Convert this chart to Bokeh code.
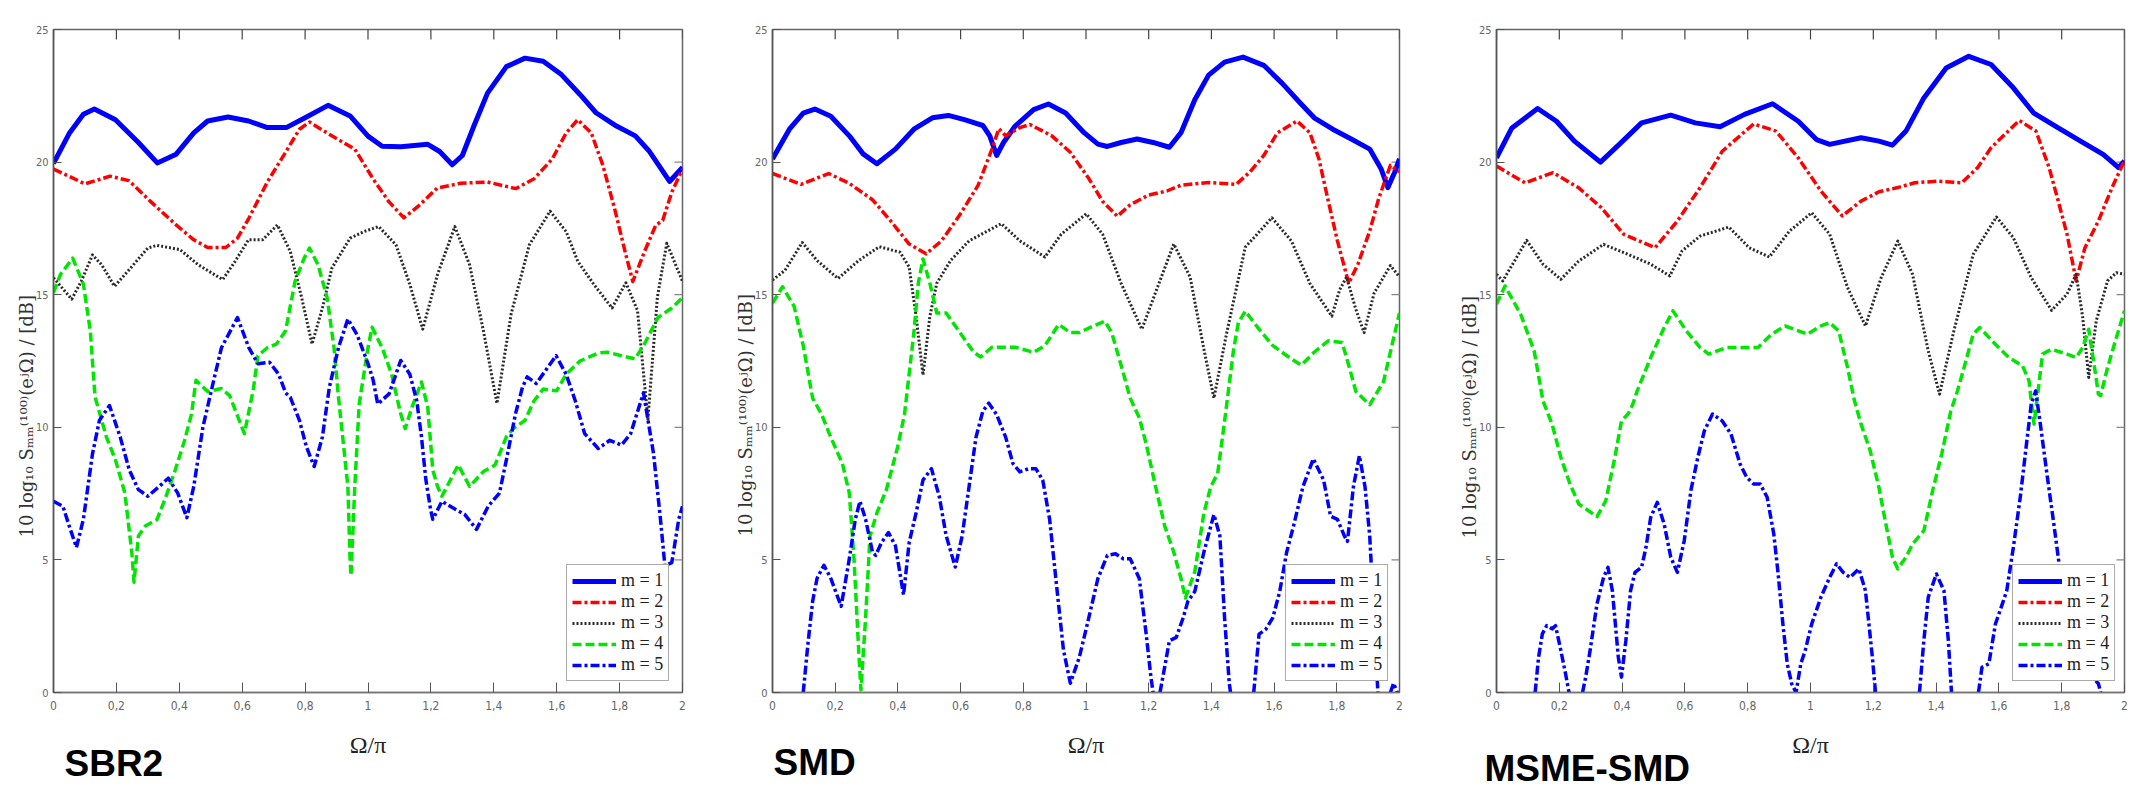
import math
from bokeh.plotting import figure
from bokeh.models import (Range1d, FixedTicker, Legend, LegendItem, Title)
from bokeh.layouts import row
from bokeh.embed import file_html
from bokeh.resources import INLINE

NaN = float("nan")

# ---------------- data ----------------
x_ticks = [0, 0.2, 0.4, 0.6, 0.8, 1, 1.2, 1.4, 1.6, 1.8, 2]
x_tick_labels = ["0", "0,2", "0,4", "0,6", "0,8", "1", "1,2", "1,4", "1,6", "1,8", "2"]
y_ticks = [0, 5, 10, 15, 20, 25]
series_labels = ["m = 1", "m = 2", "m = 3", "m = 4", "m = 5"]
panel_titles = ["SBR2", "SMD", "MSME-SMD"]
x_axis_label = "Ω/π"
y_axis_label = "10 log₁₀ Sₘₘ⁽¹⁰⁰⁾(eʲΩ) / [dB]"

# SBR2 panel (x = Ω/π, y = dB)
sbr2_m1 = [(0, 19.95), (0.051, 21.1), (0.095, 21.8), (0.13, 22.0), (0.197, 21.6), (0.27, 20.74), (0.33, 19.97),
           (0.39, 20.3), (0.446, 21.1), (0.49, 21.55), (0.555, 21.7), (0.62, 21.55), (0.68, 21.3), (0.74, 21.3),
           (0.80, 21.67), (0.873, 22.14), (0.943, 21.74), (1.0, 20.98), (1.045, 20.6), (1.104, 20.58), (1.19, 20.67),
           (1.228, 20.4), (1.268, 19.9), (1.30, 20.25), (1.338, 21.4), (1.38, 22.6), (1.44, 23.6), (1.499, 23.92),
           (1.557, 23.8), (1.615, 23.3), (1.674, 22.55), (1.725, 21.86), (1.79, 21.36), (1.85, 20.99), (1.893, 20.43),
           (1.959, 19.27), (2.0, 19.8)]
sbr2_m2 = [(0, 19.74), (0.10, 19.18), (0.18, 19.47), (0.24, 19.3), (0.31, 18.5), (0.39, 17.63), (0.446, 17.07),
           (0.49, 16.78), (0.548, 16.78), (0.585, 17.13), (0.621, 17.88), (0.68, 19.25), (0.738, 20.37), (0.782, 21.24),
           (0.814, 21.51), (0.885, 20.99), (0.958, 20.49), (1.016, 19.37), (1.067, 18.5), (1.114, 17.9), (1.162, 18.36),
           (1.22, 19.02), (1.294, 19.2), (1.38, 19.25), (1.47, 19.0), (1.528, 19.37), (1.586, 20.12), (1.63, 21.1),
           (1.667, 21.6), (1.71, 21.1), (1.747, 19.87), (1.784, 18.25), (1.82, 16.5), (1.842, 15.5), (1.879, 16.62),
           (1.915, 17.62), (1.937, 17.8), (1.966, 18.87), (2.0, 19.74)]
sbr2_m3 = [(0, 15.64), (0.058, 14.83), (0.088, 15.5), (0.124, 16.5), (0.153, 16.13), (0.194, 15.32), (0.241, 15.95),
           (0.30, 16.76), (0.329, 16.86), (0.402, 16.7), (0.46, 16.13), (0.538, 15.57), (0.577, 16.25), (0.62, 17.07),
           (0.665, 17.07), (0.712, 17.63), (0.753, 16.63), (0.789, 14.89), (0.822, 13.14), (0.855, 14.5), (0.885, 16.0),
           (0.943, 17.13), (0.987, 17.38), (1.034, 17.57), (1.089, 16.88), (1.133, 15.39), (1.174, 13.7), (1.221, 15.76),
           (1.276, 17.57), (1.323, 16.13), (1.367, 13.64), (1.41, 10.9), (1.455, 14.27), (1.513, 16.88), (1.579, 18.15),
           (1.63, 17.38), (1.667, 16.26), (1.718, 15.39), (1.776, 14.5), (1.82, 15.45), (1.857, 14.4), (1.89, 10.3),
           (1.92, 14.9), (1.95, 16.94), (2.0, 15.5)]
sbr2_m4 = [(0, 15.08), (0.022, 15.76), (0.061, 16.38), (0.095, 15.4), (0.117, 13.64), (0.132, 11.15), (0.168, 9.64),
           (0.197, 8.77), (0.227, 7.52), (0.249, 5.28), (0.256, 4.16), (0.27, 5.9), (0.292, 6.28), (0.329, 6.52),
           (0.358, 7.4), (0.387, 8.39), (0.417, 9.51), (0.439, 10.51), (0.453, 11.77), (0.49, 11.35), (0.534, 11.46),
           (0.56, 11.2), (0.607, 9.76), (0.635, 11.4), (0.65, 12.7), (0.68, 13.0), (0.709, 13.14), (0.738, 13.64),
           (0.768, 15.5), (0.797, 16.38), (0.814, 16.76), (0.841, 16.13), (0.87, 14.89), (0.892, 13.0), (0.906, 11.15),
           (0.936, 7.77), (0.943, 5.03), (0.946, 4.4), (0.958, 7.77), (0.972, 10.88), (1.0, 13.0), (1.013, 13.77),
           (1.045, 13.0), (1.075, 12.0), (1.104, 10.51), (1.118, 9.95), (1.14, 10.76), (1.17, 11.71), (1.19, 10.76),
           (1.206, 8.39), (1.221, 7.77), (1.235, 7.4), (1.257, 7.9), (1.287, 8.58), (1.323, 7.77), (1.367, 8.33),
           (1.404, 8.58), (1.44, 9.64), (1.462, 9.95), (1.499, 10.26), (1.528, 11.0), (1.557, 11.44), (1.6, 11.38),
           (1.63, 12.0), (1.674, 12.5), (1.732, 12.8), (1.762, 12.83), (1.806, 12.7), (1.849, 12.58), (1.879, 13.14),
           (1.922, 14.14), (1.966, 14.5), (2.0, 14.89)]
sbr2_m5 = [(0, 7.21), (0.03, 7.02), (0.05, 6.28), (0.073, 5.47), (0.095, 6.53), (0.124, 9.0), (0.146, 10.26),
           (0.178, 10.82), (0.212, 9.64), (0.241, 8.39), (0.27, 7.65), (0.30, 7.4), (0.336, 7.77), (0.365, 8.08),
           (0.395, 7.52), (0.424, 6.59), (0.446, 7.77), (0.475, 10.0), (0.504, 11.5), (0.534, 13.0), (0.585, 14.14),
           (0.621, 13.0), (0.65, 12.4), (0.687, 12.45), (0.716, 12.0), (0.738, 11.3), (0.753, 11.13), (0.782, 10.26),
           (0.804, 9.27), (0.829, 8.52), (0.855, 9.64), (0.877, 11.5), (0.906, 13.0), (0.936, 14.08), (0.965, 13.5),
           (1.0, 12.4), (1.016, 11.8), (1.031, 10.88), (1.067, 11.26), (1.104, 12.52), (1.133, 12.0), (1.155, 11.0),
           (1.17, 9.64), (1.184, 8.02), (1.199, 6.9), (1.206, 6.53), (1.235, 7.21), (1.279, 6.9), (1.308, 6.71),
           (1.345, 6.15), (1.382, 7.02), (1.418, 7.52), (1.44, 8.77), (1.469, 10.51), (1.491, 11.5), (1.506, 11.9),
           (1.535, 11.65), (1.598, 12.7), (1.63, 12.0), (1.659, 11.0), (1.689, 9.76), (1.732, 9.2), (1.769, 9.51),
           (1.806, 9.33), (1.835, 9.76), (1.876, 11.3), (1.908, 9.0), (1.93, 6.53), (1.944, 4.78), (1.966, 4.9),
           (1.988, 6.53), (2.0, 7.02)]

# SMD panel
smd_m1 = [(0, 20.12), (0.054, 21.24), (0.098, 21.85), (0.135, 22.0), (0.186, 21.73), (0.245, 20.99), (0.289, 20.31),
          (0.333, 19.94), (0.392, 20.49), (0.451, 21.24), (0.51, 21.67), (0.561, 21.76), (0.612, 21.6), (0.671, 21.38),
          (0.693, 20.99), (0.715, 20.25), (0.737, 20.74), (0.774, 21.36), (0.833, 21.98), (0.88, 22.19), (0.935, 21.85),
          (0.994, 21.11), (1.038, 20.68), (1.068, 20.59), (1.112, 20.74), (1.163, 20.87), (1.214, 20.74), (1.266, 20.56),
          (1.303, 21.11), (1.347, 22.35), (1.391, 23.28), (1.442, 23.77), (1.501, 23.96), (1.567, 23.65), (1.626, 22.97),
          (1.684, 22.22), (1.728, 21.67), (1.787, 21.24), (1.846, 20.87), (1.905, 20.49), (1.941, 19.75), (1.963, 19.04),
          (1.985, 19.63), (2.0, 20.12)]
smd_m2 = [(0, 19.57), (0.091, 19.16), (0.179, 19.57), (0.245, 19.2), (0.319, 18.58), (0.377, 17.78), (0.436, 16.91),
          (0.49, 16.54), (0.539, 17.03), (0.598, 18.02), (0.656, 19.13), (0.7, 20.49), (0.722, 21.26), (0.744, 20.99),
          (0.789, 21.3), (0.821, 21.42), (0.891, 20.99), (0.95, 20.37), (1.009, 19.38), (1.053, 18.52), (1.1, 17.96),
          (1.141, 18.39), (1.2, 18.76), (1.258, 18.91), (1.303, 19.13), (1.391, 19.23), (1.479, 19.16), (1.523, 19.63),
          (1.567, 20.25), (1.611, 21.11), (1.673, 21.55), (1.714, 21.11), (1.743, 20.12), (1.773, 18.52), (1.802, 17.03),
          (1.838, 15.43), (1.868, 16.17), (1.905, 17.4), (1.934, 18.64), (1.971, 19.88), (2.0, 19.63)]
smd_m3 = [(0, 15.55), (0.04, 15.92), (0.095, 16.97), (0.142, 16.29), (0.209, 15.61), (0.275, 16.29), (0.341, 16.81),
          (0.407, 16.6), (0.436, 16.04), (0.458, 14.19), (0.48, 11.97), (0.502, 14.19), (0.524, 15.43), (0.568, 16.29),
          (0.627, 17.03), (0.73, 17.68), (0.789, 17.03), (0.869, 16.42), (0.921, 17.28), (1.001, 18.05), (1.053, 17.28),
          (1.112, 15.43), (1.178, 13.7), (1.229, 15.31), (1.28, 16.91), (1.332, 15.67), (1.376, 12.95), (1.408, 11.1),
          (1.449, 13.57), (1.508, 16.79), (1.593, 17.9), (1.655, 17.03), (1.714, 15.43), (1.784, 14.19), (1.809, 15.18),
          (1.831, 15.67), (1.861, 14.44), (1.887, 13.57), (1.919, 15.06), (1.971, 16.1), (2.0, 15.67)]
smd_m4 = [(0, 14.68), (0.032, 15.3), (0.069, 14.56), (0.098, 13.08), (0.128, 11.1), (0.157, 10.48), (0.186, 9.62),
          (0.223, 8.63), (0.245, 7.52), (0.26, 5.04), (0.275, 1.58), (0.282, 0.1), (0.297, 2.82), (0.311, 5.9),
          (0.333, 6.77), (0.363, 7.64), (0.399, 9.25), (0.421, 10.48), (0.451, 13.57), (0.465, 15.43), (0.48, 16.35),
          (0.502, 15.43), (0.524, 14.31), (0.554, 14.31), (0.598, 13.57), (0.642, 12.83), (0.664, 12.65), (0.7, 13.02),
          (0.774, 13.02), (0.833, 12.83), (0.869, 13.08), (0.913, 13.88), (0.95, 13.57), (0.979, 13.57), (1.023, 13.82),
          (1.06, 14.0), (1.082, 13.57), (1.112, 12.34), (1.141, 11.1), (1.17, 10.36), (1.192, 9.37), (1.222, 7.76),
          (1.251, 6.28), (1.28, 5.29), (1.303, 4.3), (1.317, 3.56), (1.347, 4.55), (1.376, 6.77), (1.398, 7.76),
          (1.42, 8.26), (1.442, 10.23), (1.471, 12.95), (1.486, 13.94), (1.508, 14.38), (1.552, 13.7), (1.596, 13.08),
          (1.655, 12.58), (1.687, 12.34), (1.728, 12.83), (1.773, 13.26), (1.817, 13.2), (1.838, 12.34), (1.861, 11.35),
          (1.905, 10.85), (1.949, 11.72), (1.978, 13.2), (2.0, 14.31)]
smd_m5 = [(0.098, 0.0), (0.113, 1.83), (0.128, 3.44), (0.142, 4.3), (0.164, 4.8), (0.186, 4.3), (0.219, 3.25),
          (0.245, 5.04), (0.264, 6.53), (0.279, 7.21), (0.297, 6.53), (0.319, 5.29), (0.329, 5.17), (0.348, 5.66),
          (0.37, 6.03), (0.392, 5.54), (0.418, 3.68), (0.436, 5.66), (0.458, 6.77), (0.48, 8.01), (0.507, 8.44),
          (0.532, 7.39), (0.554, 5.91), (0.583, 4.73), (0.605, 5.91), (0.627, 7.76), (0.649, 9.62), (0.671, 10.61),
          (0.69, 10.91), (0.715, 10.48), (0.744, 9.62), (0.767, 8.63), (0.789, 8.32), (0.818, 8.44), (0.84, 8.44),
          (0.862, 8.01), (0.884, 6.53), (0.906, 4.05), (0.928, 1.61), (0.95, 0.35), (0.979, 1.34), (1.009, 2.82),
          (1.038, 4.3), (1.068, 5.17), (1.094, 5.23), (1.119, 5.04), (1.141, 5.04), (1.17, 4.3), (1.192, 2.2),
          (1.207, 0.59), (1.214, 0.0), (1.225, NaN), (1.236, 0.0), (1.251, 0.96), (1.266, 1.95), (1.288, 2.08),
          (1.31, 2.82), (1.325, 3.44), (1.347, 3.81), (1.376, 5.29), (1.408, 6.71), (1.427, 5.91), (1.442, 2.82),
          (1.457, 0.35), (1.461, 0.0), (1.5, NaN), (1.535, 0.0), (1.552, 2.2), (1.574, 2.39), (1.596, 2.82),
          (1.618, 3.81), (1.64, 5.29), (1.662, 6.28), (1.692, 7.76), (1.725, 8.81), (1.758, 8.01), (1.78, 6.65),
          (1.802, 6.53), (1.824, 5.91), (1.834, 5.7), (1.853, 7.76), (1.872, 8.93), (1.89, 7.76), (1.905, 5.91),
          (1.919, 2.82), (1.931, 0.0), (1.95, NaN), (1.971, 0.0), (1.981, 0.35), (1.993, 0.0)]

# MSME-SMD panel
msme_m1 = [(0, 20.16), (0.049, 21.29), (0.131, 22.02), (0.191, 21.54), (0.248, 20.79), (0.331, 20.0), (0.391, 20.67),
           (0.462, 21.48), (0.555, 21.77), (0.633, 21.48), (0.712, 21.33), (0.79, 21.8), (0.879, 22.2), (0.961, 21.54),
           (1.019, 20.85), (1.061, 20.67), (1.161, 20.92), (1.218, 20.79), (1.261, 20.64), (1.304, 21.17), (1.361, 22.42),
           (1.432, 23.55), (1.504, 23.99), (1.575, 23.68), (1.646, 22.8), (1.71, 21.86), (1.789, 21.29), (1.86, 20.79),
           (1.932, 20.29), (1.981, 19.79), (2.0, 20.04)]
msme_m2 = [(0, 19.85), (0.091, 19.22), (0.18, 19.6), (0.262, 19.03), (0.334, 18.28), (0.405, 17.28), (0.505, 16.77),
           (0.576, 17.78), (0.648, 19.03), (0.719, 20.41), (0.819, 21.44), (0.89, 21.17), (0.961, 20.16), (1.033, 18.91),
           (1.101, 17.97), (1.161, 18.53), (1.218, 18.88), (1.275, 19.03), (1.332, 19.22), (1.404, 19.28), (1.482, 19.22),
           (1.532, 19.79), (1.575, 20.54), (1.665, 21.57), (1.718, 21.17), (1.76, 19.79), (1.789, 18.53), (1.817, 17.28),
           (1.846, 15.52), (1.874, 16.77), (1.917, 17.78), (1.96, 19.03), (2.0, 20.06)]
msme_m3 = [(0, 15.77), (0.02, 15.52), (0.096, 17.05), (0.148, 16.15), (0.205, 15.58), (0.262, 16.27), (0.341, 16.9),
           (0.419, 16.52), (0.491, 16.15), (0.552, 15.71), (0.591, 16.65), (0.648, 17.21), (0.74, 17.55), (0.805, 16.77),
           (0.869, 16.42), (0.933, 17.4), (1.004, 18.09), (1.061, 17.28), (1.118, 15.27), (1.175, 13.82), (1.225, 15.64),
           (1.278, 17.02), (1.325, 15.77), (1.375, 12.88), (1.411, 11.25), (1.454, 13.51), (1.518, 16.52), (1.592, 17.93),
           (1.646, 17.15), (1.703, 15.64), (1.768, 14.41), (1.817, 15.02), (1.846, 15.77), (1.867, 14.14), (1.886, 11.88),
           (1.91, 14.01), (1.946, 15.52), (1.974, 15.83), (2.0, 15.77)]
msme_m4 = [(0, 14.64), (0.027, 15.33), (0.077, 14.26), (0.12, 12.88), (0.148, 11.0), (0.177, 10.12), (0.205, 8.86),
           (0.234, 7.86), (0.262, 7.11), (0.32, 6.63), (0.348, 7.23), (0.377, 8.86), (0.398, 10.24), (0.419, 10.5),
           (0.434, 10.87), (0.448, 11.37), (0.491, 12.63), (0.534, 13.76), (0.562, 14.39), (0.605, 13.63), (0.648, 13.01),
           (0.676, 12.76), (0.733, 13.01), (0.833, 13.01), (0.876, 13.51), (0.919, 13.82), (0.947, 13.7), (0.99, 13.51),
           (1.033, 13.82), (1.061, 13.95), (1.09, 13.63), (1.118, 12.25), (1.14, 11.0), (1.161, 10.12), (1.19, 9.12),
           (1.218, 7.73), (1.24, 6.35), (1.261, 5.1), (1.278, 4.66), (1.304, 5.1), (1.325, 5.6), (1.361, 6.1),
           (1.389, 7.61), (1.418, 9.0), (1.447, 10.62), (1.468, 11.37), (1.489, 12.25), (1.518, 13.51), (1.539, 13.76),
           (1.589, 13.13), (1.632, 12.63), (1.675, 12.32), (1.696, 11.75), (1.703, 11.0), (1.712, 10.12), (1.739, 12.76),
           (1.767, 12.94), (1.817, 12.76), (1.846, 12.63), (1.867, 13.01), (1.886, 13.7), (1.903, 12.38), (1.917, 11.25),
           (1.924, 11.19), (1.946, 12.25), (1.974, 13.38), (2.0, 14.39)]
msme_m5 = [(0.123, 0.0), (0.134, 1.33), (0.146, 2.21), (0.16, 2.52), (0.177, 2.4), (0.188, 2.52), (0.205, 1.58),
           (0.22, 0.7), (0.231, 0.0), (0.25, NaN), (0.274, 0.0), (0.284, 0.58), (0.298, 1.58), (0.32, 3.34),
           (0.341, 4.34), (0.355, 4.72), (0.369, 3.84), (0.388, 1.33), (0.398, 0.58), (0.412, 1.96), (0.427, 3.84),
           (0.441, 4.53), (0.462, 4.72), (0.476, 5.47), (0.491, 6.6), (0.512, 7.17), (0.534, 6.35), (0.555, 5.1),
           (0.576, 4.53), (0.598, 5.73), (0.619, 7.61), (0.641, 8.86), (0.662, 9.87), (0.688, 10.5), (0.719, 10.24),
           (0.747, 9.74), (0.776, 8.61), (0.797, 8.11), (0.819, 7.86), (0.84, 7.86), (0.862, 7.36), (0.883, 5.98),
           (0.897, 4.47), (0.912, 2.59), (0.926, 1.08), (0.94, 0.33), (0.954, 0.0), (0.969, 1.08), (0.983, 1.58),
           (1.004, 2.59), (1.033, 3.59), (1.061, 4.34), (1.083, 4.85), (1.104, 4.53), (1.126, 4.34), (1.154, 4.66),
           (1.175, 3.84), (1.197, 1.33), (1.207, 0.0), (1.28, NaN), (1.347, 0.0), (1.361, 1.96), (1.375, 3.59),
           (1.401, 4.47), (1.425, 3.84), (1.439, 1.96), (1.449, 0.0), (1.49, NaN), (1.535, 0.0), (1.546, 0.95),
           (1.568, 1.08), (1.589, 2.59), (1.611, 3.34), (1.625, 3.84), (1.646, 5.47), (1.668, 7.36), (1.689, 9.49),
           (1.703, 10.87), (1.717, 11.37), (1.732, 10.12), (1.753, 8.24), (1.775, 6.35), (1.796, 4.47), (1.817, 2.59),
           (1.839, 1.33), (1.917, 0.33), (1.924, 0.0)]

panels_data = [
    [sbr2_m1, sbr2_m2, sbr2_m3, sbr2_m4, sbr2_m5],
    [smd_m1, smd_m2, smd_m3, smd_m4, smd_m5],
    [msme_m1, msme_m2, msme_m3, msme_m4, msme_m5],
]

# ---------------- styles / layout ----------------
line_colors = ["#0000ff", "#ff0000", "#2a2a2a", "#00e600", "#0000ff"]
line_dashes = ["solid", "9 3 3 3", "2 2", "9 4", "9 3 3 3"]
line_widths = [5, 3.5, 3, 3.5, 3.5]

fig_w = [720, 720, 688]
fig_h = 788
b_left = [53, 52, 56]
b_right = [38, 41, 4]
b_top = [29, 25, 28]
b_bottom = [90, 89, 96]
legend_x = [513, 513, 516]
title_offset = [11, 1, -12]
title_standoff = [-36, -38, -26]
ylabel_offset = [155, 156, 154]

FONT_SERIF = "Liberation Serif, DejaVu Serif, serif"
FONT_TICK = "Liberation Sans Narrow, DejaVu Sans Condensed, Liberation Sans, sans-serif"
FONT_TITLE = "Liberation Sans, Arial, sans-serif"

figs = []
for i in range(3):
    frame_w = fig_w[i] - b_left[i] - b_right[i]
    frame_h = fig_h - b_top[i] - b_bottom[i]
    p = figure(width=fig_w[i], height=fig_h,
               x_range=Range1d(0, 2), y_range=Range1d(0, 25),
               output_backend="svg", toolbar_location=None,
               min_border_left=b_left[i], min_border_right=b_right[i],
               min_border_top=b_top[i], min_border_bottom=b_bottom[i])
    p.background_fill_color = "white"
    p.border_fill_color = "white"
    p.outline_line_color = "#666"
    p.outline_line_width = 1.5
    p.grid.visible = False

    # bottom axis
    xa = p.xaxis[0]
    xa.ticker = FixedTicker(ticks=x_ticks, minor_ticks=[])
    xa.major_label_overrides = dict(zip(x_ticks, x_tick_labels))
    xa.major_tick_in = 10
    xa.major_tick_out = 0
    xa.major_tick_line_color = "#555"
    xa.minor_tick_line_color = None
    xa.axis_line_color = "#777"
    xa.axis_line_width = 1.5
    xa.major_label_text_font = FONT_TICK
    xa.major_label_text_font_size = "12px"
    xa.major_label_text_color = "#666"
    xa.axis_label = x_axis_label
    xa.axis_label_text_font = FONT_SERIF
    xa.axis_label_text_font_style = "normal"
    xa.axis_label_text_color = "#222"
    xa.axis_label_text_font_size = "24px"

    # left axis (label drawn as a left-side title, anchored at its start)
    ya = p.yaxis[0]
    ya.ticker = FixedTicker(ticks=y_ticks, minor_ticks=[])
    ya.major_tick_in = 8
    ya.major_tick_out = 0
    ya.major_tick_line_color = "#555"
    ya.minor_tick_line_color = None
    ya.axis_line_color = "#555"
    ya.axis_line_width = 1.5
    ya.major_label_text_font = FONT_TICK
    ya.major_label_text_font_size = "11px"
    ya.major_label_text_color = "#666"
    ya.major_label_standoff = 5

    yt = Title(text=y_axis_label, align="left", offset=ylabel_offset[i], vertical_align="middle",
               text_font="DejaVu Serif", text_font_size="18px", text_font_style="normal",
               text_color="#333")
    try:
        yt.standoff = -11
    except Exception:
        yt.standoff = 0
    p.add_layout(yt, "left")

    # mirrored tick marks on the top and right frame edges
    top_len = 10 * 25 / frame_h
    p.segment(x0=x_ticks, y0=[25] * len(x_ticks), x1=x_ticks, y1=[25 - top_len] * len(x_ticks),
              line_color="#444", line_width=1.2)
    right_len = 8 * 2 / frame_w
    inner_y = y_ticks[1:-1]
    p.segment(x0=[2] * len(inner_y), y0=inner_y, x1=[2 - right_len] * len(inner_y), y1=inner_y,
              line_color="#888", line_width=1.2)

    items = []
    for k, pts in enumerate(panels_data[i]):
        xs = [a for a, b in pts]
        ys = [b for a, b in pts]
        r = p.line(xs, ys, line_color=line_colors[k], line_width=line_widths[k],
                   line_dash=line_dashes[k], line_join="round")
        items.append(LegendItem(label=series_labels[k], renderers=[r]))

    leg = Legend(items=items, location=(legend_x[i], 11), padding=5, spacing=0, margin=0,
                 glyph_width=44, glyph_height=18, label_height=18, label_standoff=5,
                 label_text_font=FONT_SERIF, label_text_font_size="18px",
                 label_text_color="#222", border_line_color="#555", border_line_width=1.5,
                 background_fill_color="white", background_fill_alpha=1.0)
    p.add_layout(leg)

    t = Title(text=panel_titles[i], align="left", offset=title_offset[i], vertical_align="top",
              text_font=FONT_TITLE, text_font_size="37px", text_font_style="bold", text_color="black")
    try:
        t.standoff = title_standoff[i]
        neg_ok = True
    except Exception:
        t.standoff = 0
        neg_ok = False
    if neg_ok:
        xa.major_label_standoff = 8
        xa.axis_label_standoff = 19
    else:
        xa.major_label_standoff = 5
        xa.axis_label_standoff = 0
        xa.axis_label_text_font_size = "22px"
    p.add_layout(t, "below")
    figs.append(p)

layout = row(*figs)
open("out.html", "w").write(file_html(layout, INLINE))
